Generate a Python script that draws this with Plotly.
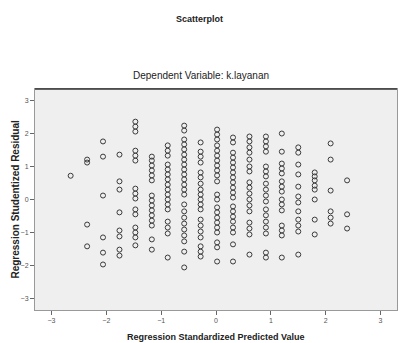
import plotly.graph_objects as go

# Standardized predicted values (column positions)
predicted = [-2.65, -2.35, -2.06, -1.76, -1.47, -1.17, -0.88, -0.58, -0.28,
             0.02, 0.31, 0.61, 0.91, 1.20, 1.50, 1.80, 2.09, 2.39]

# Studentized residuals per predicted-value column
res_c01 = [0.72]
res_c02 = [1.21, 1.12, -0.76, -1.42]
res_c03 = [1.76, 1.30, 0.12, -1.15, -1.61, -1.97]
res_c04 = [1.36, 0.55, 0.30, -0.39, -0.94, -1.12, -1.52, -1.70]
res_c05 = [2.36, 2.21, 2.06, 1.48, 1.33, 1.18, 0.33, 0.18, 0.03, -0.30, -0.45,
           -0.85, -1.00, -1.15, -1.39]
res_c06 = [1.30, 1.18, 1.03, 0.88, 0.73, 0.58, 0.12, -0.03, -0.18, -0.33, -0.48,
           -0.64, -0.79, -1.21, -1.52]
res_c07 = [1.64, 1.48, 1.33, 1.06, 0.91, 0.76, 0.61, 0.45, 0.30, 0.15, 0.00,
           -0.15, -0.30, -0.67, -0.85, -1.03, -1.76]
res_c08 = [2.24, 2.09, 1.82, 1.67, 1.52, 1.36, 1.21, 1.06, 0.91, 0.76, 0.61,
           0.45, 0.30, 0.15, -0.15, -0.36, -0.55, -0.73, -0.91, -1.09, -1.27,
           -1.58, -2.06]
res_c09 = [1.73, 1.45, 1.30, 1.12, 0.82, 0.67, 0.48, 0.30, 0.15, 0.00, -0.15,
           -0.30, -0.61, -0.79, -0.97, -1.15, -1.42, -1.58, -1.73]
res_c10 = [2.12, 1.97, 1.82, 1.64, 1.48, 1.33, 1.18, 1.03, 0.88, 0.73, 0.55,
           0.15, 0.00, -0.24, -0.39, -0.55, -0.70, -0.85, -1.00, -1.30, -1.45,
           -1.88]
res_c11 = [1.88, 1.73, 1.42, 1.27, 1.12, 0.97, 0.82, 0.67, 0.52, 0.36, 0.21,
           0.06, -0.21, -0.36, -0.52, -0.67, -0.85, -1.00, -1.36, -1.88]
res_c12 = [1.91, 1.76, 1.58, 1.42, 1.21, 1.00, 0.85, 0.52, 0.36, 0.18, 0.00,
           -0.18, -0.36, -0.70, -0.88, -1.06, -1.67]
res_c13 = [1.91, 1.76, 1.61, 1.45, 1.00, 0.85, 0.70, 0.48, 0.30, 0.12, -0.06,
           -0.30, -0.48, -0.67, -0.85, -1.03, -1.61, -1.76]
res_c14 = [2.00, 1.45, 1.09, 0.94, 0.79, 0.55, 0.39, 0.24, 0.00, -0.15, -0.33,
           -0.79, -0.94, -1.09, -1.76]
res_c15 = [1.58, 1.42, 1.06, 0.76, 0.39, 0.09, -0.09, -0.36, -0.61, -0.79,
           -0.97, -1.67]
res_c16 = [0.82, 0.70, 0.58, 0.42, 0.30, 0.00, -0.61, -1.06]
res_c17 = [1.70, 1.21, 0.27, -0.36, -0.55, -0.73]
res_c18 = [0.58, -0.45, -0.88]

x_ticks = [-3, -2, -1, 0, 1, 2, 3]
y_ticks = [-3, -2, -1, 0, 1, 2, 3]

columns = [res_c01, res_c02, res_c03, res_c04, res_c05, res_c06, res_c07,
           res_c08, res_c09, res_c10, res_c11, res_c12, res_c13, res_c14,
           res_c15, res_c16, res_c17, res_c18]

xs, ys = [], []
for xv, col in zip(predicted, columns):
    for yv in col:
        xs.append(xv)
        ys.append(yv)

fig = go.Figure()
fig.add_trace(go.Scatter(
    x=xs, y=ys, mode="markers",
    marker=dict(symbol="circle-open", size=5, color="#3a3a3a",
                line=dict(width=1, color="#3a3a3a")),
    showlegend=False, hoverinfo="skip"))

font_family = "Liberation Sans, Arial, sans-serif"

fig.update_layout(
    width=399, height=343,
    margin=dict(l=35, r=2, t=89, b=33),
    paper_bgcolor="white",
    plot_bgcolor="#efefef",
    font=dict(family=font_family, color="#222"),
    title=dict(text="<b>Scatterplot</b>", x=0.5, xanchor="center",
               y=1 - 19 / 343, yanchor="middle",
               font=dict(size=9, color="#222", family=font_family)),
    xaxis=dict(range=[-3.3, 3.3], tickvals=x_ticks, ticks="outside",
               ticklen=4, tickcolor="#666", tickfont=dict(size=7, color="#555"),
               showgrid=False, zeroline=False, showline=True,
               linecolor="#999", linewidth=1, mirror=True),
    yaxis=dict(range=[-3.35, 3.35], tickvals=y_ticks, ticks="outside",
               ticklen=4, tickcolor="#666", tickfont=dict(size=7, color="#555"),
               showgrid=False, zeroline=False, showline=True,
               linecolor="#999", linewidth=1, mirror=True),
    annotations=[
        dict(text="Dependent Variable: k.layanan", xref="paper", yref="paper",
             x=0.5 - (35 - 2) / 2 / 363 + 0.005, y=(310 - 75) / 221,
             xanchor="center", yanchor="middle", showarrow=False,
             font=dict(size=10, color="#222", family=font_family)),
        dict(text="<b>Regression Standardized Predicted Value</b>",
             xref="paper", yref="paper", x=0.5, y=(310 - 337) / 221,
             xanchor="center", yanchor="middle", showarrow=False,
             font=dict(size=9, color="#222", family=font_family)),
        dict(text="<b>Regression Studentized Residual</b>",
             xref="paper", yref="paper", x=(15 - 35) / 363, y=0.5,
             xanchor="center", yanchor="middle", textangle=-90,
             showarrow=False,
             font=dict(size=10, color="#222", family=font_family)),
    ],
    shapes=[dict(type="line", xref="paper", yref="paper", x0=0, x1=1,
                 y0=1, y1=1, line=dict(color="#333", width=1.5))],
)

fig.write_html("out.html",
               config={"displayModeBar": False},
               post_script="document.body.style.margin='0px';"
                           "document.body.style.overflow='hidden';")
